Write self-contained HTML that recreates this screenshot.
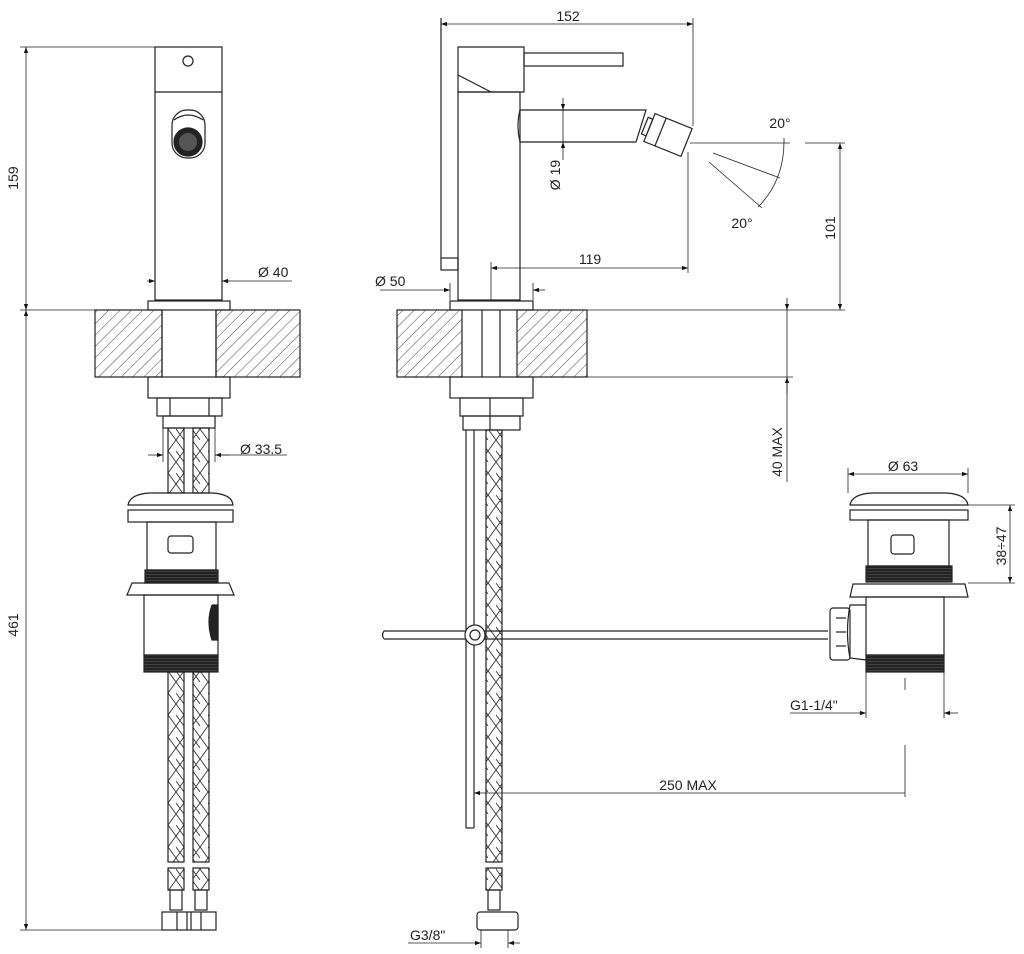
<!DOCTYPE html>
<html><head><meta charset="utf-8"><style>
html,body{margin:0;padding:0;background:#fff}
svg{display:block}
text{font-family:"Liberation Sans",sans-serif;font-size:14px;fill:#222}
</style></head><body>
<svg width="1024" height="954" viewBox="0 0 1024 954" xmlns="http://www.w3.org/2000/svg">
<defs>
<pattern id="hat" width="8" height="8" patternUnits="userSpaceOnUse" patternTransform="rotate(45)">
<line x1="0" y1="0" x2="0" y2="8" stroke="#444" stroke-width="1"/>
</pattern>
<pattern id="br" width="16" height="22" patternUnits="userSpaceOnUse">
<path d="M0 0 L16 22 M16 0 L0 22 M8 -11 L16 0 M0 11 L8 22" stroke="#333" stroke-width="0.9" fill="none"/>
</pattern>
<pattern id="thr" width="3" height="3" patternUnits="userSpaceOnUse">
<rect width="3" height="3" fill="#222"/><line x1="0" y1="1.5" x2="3" y2="1.5" stroke="#555" stroke-width="0.6"/>
</pattern>
<marker id="a" viewBox="0 0 10 10" refX="10" refY="5" markerWidth="11" markerHeight="6" markerUnits="userSpaceOnUse" orient="auto-start-reverse">
<path d="M0 1.5 L10 5 L0 8.5 z" fill="#111"/></marker>
</defs>
<g stroke="#222" stroke-width="1.2" fill="none">

<!-- LEFT VIEW -->
<line x1="20" y1="47" x2="155" y2="47" stroke-width="0.8"/>
<line x1="20" y1="310" x2="95" y2="310" stroke-width="0.8"/>
<line x1="20" y1="930" x2="162" y2="930" stroke-width="0.8"/>
<line x1="26" y1="47" x2="26" y2="310" marker-start="url(#a)" marker-end="url(#a)" stroke-width="0.8"/>
<line x1="26" y1="310" x2="26" y2="930" marker-start="url(#a)" marker-end="url(#a)" stroke-width="0.8"/>
<rect x="155" y="47" width="67" height="253"/>
<line x1="155" y1="92" x2="222" y2="92"/>
<circle cx="188" cy="61" r="5"/>
<rect x="172" y="110" width="33" height="48" rx="15"/>
<path d="M174 120 Q188 110 203 120"/>
<circle cx="188" cy="142" r="14" fill="#222"/>
<circle cx="188" cy="142" r="9" fill="#555" stroke="none"/>
<rect x="148" y="301" width="82" height="9"/>
<rect x="95" y="310" width="67" height="67" fill="url(#hat)"/>
<rect x="216" y="310" width="84" height="67" fill="url(#hat)"/>
<line x1="162" y1="310" x2="162" y2="377"/><line x1="216" y1="310" x2="216" y2="377"/>
<rect x="148" y="377" width="82" height="21"/>
<rect x="157" y="398" width="65" height="18"/>
<line x1="170" y1="398" x2="170" y2="416"/><line x1="209" y1="398" x2="209" y2="416"/>
<rect x="163" y="416" width="52" height="12"/>
<rect x="168" y="428" width="16" height="65" fill="url(#br)"/>
<rect x="193" y="428" width="16" height="65" fill="url(#br)"/>
<rect x="168" y="672" width="16" height="190" fill="url(#br)"/>
<rect x="193" y="672" width="16" height="190" fill="url(#br)"/>
<rect x="168" y="868" width="16" height="22" fill="url(#br)"/>
<rect x="193" y="868" width="16" height="22" fill="url(#br)"/>
<rect x="170" y="890" width="12" height="20"/><rect x="195" y="890" width="12" height="20"/>
<rect x="162" y="912" width="54" height="18"/>
<line x1="177" y1="912" x2="177" y2="930"/><line x1="187" y1="912" x2="187" y2="930"/><line x1="191" y1="912" x2="191" y2="930"/><line x1="201" y1="912" x2="201" y2="930"/>
<line x1="147" y1="281" x2="155" y2="281" marker-end="url(#a)" stroke-width="0.8"/>
<line x1="230" y1="281" x2="222" y2="281" marker-end="url(#a)" stroke-width="0.8"/>
<line x1="222" y1="281" x2="292" y2="281" stroke-width="0.8"/>
<line x1="148" y1="455" x2="163" y2="455" marker-end="url(#a)" stroke-width="0.8"/>
<line x1="230" y1="455" x2="215" y2="455" marker-end="url(#a)" stroke-width="0.8"/>
<line x1="215" y1="455" x2="287" y2="455" stroke-width="0.8"/>
<line x1="163" y1="428" x2="163" y2="462" stroke-width="0.8"/><line x1="215" y1="428" x2="215" y2="462" stroke-width="0.8"/>
<!-- left drain -->
<path d="M128 505 Q130 494 150 493 L212 493 Q232 494 233 505 Z"/>
<rect x="128" y="510" width="105" height="12"/>
<rect x="147" y="522" width="69" height="48"/>
<rect x="168" y="536" width="25" height="17" rx="3"/>
<rect x="145" y="570" width="73" height="13" fill="url(#thr)"/>
<path d="M127 595 L132 583 L229 583 L234 595 Z"/>
<rect x="144" y="595" width="74" height="60"/>
<path d="M212 605 L218 605 L218 640 L212 640 Q206 622 212 605" fill="#222"/>
<rect x="144" y="655" width="74" height="17" fill="url(#thr)"/>

<!-- MIDDLE VIEW -->
<line x1="441" y1="18" x2="441" y2="258"/>
<rect x="441" y="258" width="17" height="12"/>
<line x1="441" y1="24" x2="693" y2="24" marker-start="url(#a)" marker-end="url(#a)" stroke-width="0.8"/>
<line x1="693" y1="18" x2="693" y2="126" stroke-width="0.8"/>
<path d="M458 47 L524 47 L524 92 L458 92 L458 75 Z"/>
<path d="M458 75 L491 92" />
<rect x="524" y="53" width="99" height="13"/>
<rect x="458" y="92" width="62" height="208"/>
<path d="M520 110 L646 110 L636 142 L520 142 Q516 126 520 110"/>
<g transform="rotate(22 668 135)"><rect x="648" y="120" width="40" height="30"/><line x1="660" y1="120" x2="660" y2="150"/><rect x="643" y="126" width="5" height="18"/></g>
<line x1="563" y1="98" x2="563" y2="110" marker-end="url(#a)" stroke-width="0.8"/>
<line x1="563" y1="160" x2="563" y2="142" marker-end="url(#a)" stroke-width="0.8"/>
<line x1="563" y1="110" x2="563" y2="142" stroke-width="0.8"/>
<line x1="688" y1="152" x2="688" y2="273" stroke-width="0.8"/>
<line x1="491" y1="262" x2="491" y2="300" stroke-width="0.8"/>
<line x1="491" y1="268" x2="688" y2="268" marker-start="url(#a)" marker-end="url(#a)" stroke-width="0.8"/>
<line x1="450" y1="283" x2="450" y2="300" stroke-width="0.8"/><line x1="533" y1="283" x2="533" y2="300" stroke-width="0.8"/>
<line x1="380" y1="290" x2="450" y2="290" marker-end="url(#a)" stroke-width="0.8"/>
<line x1="545" y1="290" x2="533" y2="290" marker-end="url(#a)" stroke-width="0.8"/>
<!-- angle -->
<line x1="690" y1="143" x2="790" y2="143" stroke-width="0.8"/>
<line x1="805" y1="143" x2="845" y2="143" stroke-width="0.8"/>
<line x1="713" y1="153" x2="780" y2="178" stroke-width="0.8"/>
<line x1="709" y1="162" x2="762" y2="208" stroke-width="0.8"/>
<path d="M784 138 Q785 180 758 207" stroke-width="0.8"/>
<line x1="840" y1="143" x2="840" y2="310" marker-start="url(#a)" marker-end="url(#a)" stroke-width="0.8"/>
<!-- deck -->
<rect x="450" y="301" width="83" height="9"/>
<rect x="397" y="310" width="65" height="67" fill="url(#hat)"/>
<rect x="517" y="310" width="70" height="67" fill="url(#hat)"/>
<line x1="482" y1="310" x2="482" y2="377"/><line x1="500" y1="310" x2="500" y2="377"/>
<line x1="587" y1="310" x2="845" y2="310" stroke-width="0.8"/>
<line x1="587" y1="377" x2="793" y2="377" stroke-width="0.8"/>
<line x1="787" y1="298" x2="787" y2="310" marker-end="url(#a)" stroke-width="0.8"/>
<line x1="787" y1="310" x2="787" y2="482" stroke-width="0.8"/>
<line x1="787" y1="395" x2="787" y2="377" marker-end="url(#a)" stroke-width="0.8"/>
<rect x="450" y="377" width="83" height="21"/>
<rect x="460" y="398" width="63" height="18"/>
<line x1="490" y1="398" x2="490" y2="430"/>
<rect x="463" y="416" width="57" height="14"/>
<line x1="466" y1="430" x2="466" y2="828"/><line x1="474" y1="430" x2="474" y2="828"/>
<line x1="466" y1="828" x2="474" y2="828"/>
<rect x="486" y="430" width="16" height="432" fill="url(#br)"/>
<rect x="486" y="868" width="16" height="22" fill="url(#br)"/>
<rect x="488" y="890" width="12" height="20"/>
<rect x="477" y="912" width="41" height="18" rx="3"/>
<line x1="481" y1="930" x2="481" y2="948" stroke-width="0.8"/><line x1="508" y1="930" x2="508" y2="948" stroke-width="0.8"/>
<line x1="408" y1="943" x2="481" y2="943" marker-end="url(#a)" stroke-width="0.8"/>
<line x1="520" y1="943" x2="508" y2="943" marker-end="url(#a)" stroke-width="0.8"/>
<!-- horizontal rod -->
<path d="M384 631 L828 631 M384 639 L828 639 M384 631 Q381 635 384 639"/>
<circle cx="475" cy="635" r="10" fill="#fff"/><circle cx="475" cy="635" r="5"/>
<line x1="905" y1="745" x2="905" y2="797" stroke-width="0.8"/>
<line x1="474" y1="793" x2="905" y2="793" marker-start="url(#a)" stroke-width="0.8"/>

<!-- RIGHT DRAIN -->
<line x1="848" y1="468" x2="848" y2="493" stroke-width="0.8"/><line x1="968" y1="468" x2="968" y2="493" stroke-width="0.8"/>
<line x1="848" y1="474" x2="968" y2="474" marker-start="url(#a)" marker-end="url(#a)" stroke-width="0.8"/>
<path d="M850 505 Q852 494 872 493 L946 493 Q966 494 968 505 Z"/>
<rect x="850" y="510" width="118" height="10"/>
<rect x="868" y="520" width="81" height="46"/>
<rect x="891" y="535" width="23" height="19" rx="3"/>
<rect x="866" y="566" width="86" height="16" fill="url(#thr)"/>
<path d="M850 597 L853 584 L965 584 L968 597 Z"/>
<rect x="866" y="597" width="78" height="58"/>
<rect x="866" y="655" width="78" height="17" fill="url(#thr)"/>
<path d="M866 605 L850 605 Q845 632 850 658 L866 660"/>
<rect x="830" y="608" width="20" height="52" rx="3"/>
<line x1="836" y1="618" x2="846" y2="618"/><line x1="836" y1="632" x2="846" y2="632"/><line x1="836" y1="646" x2="846" y2="646"/>
<line x1="968" y1="505" x2="1015" y2="505" stroke-width="0.8"/><line x1="968" y1="583" x2="1015" y2="583" stroke-width="0.8"/>
<line x1="1010" y1="505" x2="1010" y2="583" marker-start="url(#a)" marker-end="url(#a)" stroke-width="0.8"/>
<line x1="866" y1="672" x2="866" y2="718" stroke-width="0.8"/><line x1="944" y1="672" x2="944" y2="718" stroke-width="0.8"/>
<line x1="905" y1="678" x2="905" y2="690" stroke-width="0.8"/>
<line x1="790" y1="713" x2="866" y2="713" marker-end="url(#a)" stroke-width="0.8"/>
<line x1="958" y1="713" x2="944" y2="713" marker-end="url(#a)" stroke-width="0.8"/>
</g>

<text x="18" y="178" transform="rotate(-90 18 178)" text-anchor="middle">159</text>
<text x="18" y="625" transform="rotate(-90 18 625)" text-anchor="middle">461</text>
<text x="258" y="277">Ø 40</text>
<text x="240" y="454">Ø 33.5</text>
<text x="568" y="21" text-anchor="middle">152</text>
<text x="560" y="175" transform="rotate(-90 560 175)" text-anchor="middle">Ø 19</text>
<text x="590" y="264" text-anchor="middle">119</text>
<text x="375" y="286">Ø 50</text>
<text x="780" y="128" text-anchor="middle">20°</text>
<text x="742" y="228" text-anchor="middle">20°</text>
<text x="835" y="228" transform="rotate(-90 835 228)" text-anchor="middle">101</text>
<text x="782" y="452" transform="rotate(-90 782 452)" text-anchor="middle">40 MAX</text>
<text x="903" y="471" text-anchor="middle">Ø 63</text>
<text x="1006" y="546" transform="rotate(-90 1006 546)" text-anchor="middle">38÷47</text>
<text x="790" y="710">G1-1/4"</text>
<text x="688" y="790" text-anchor="middle">250 MAX</text>
<text x="410" y="940">G3/8"</text>
</svg>
</body></html>
